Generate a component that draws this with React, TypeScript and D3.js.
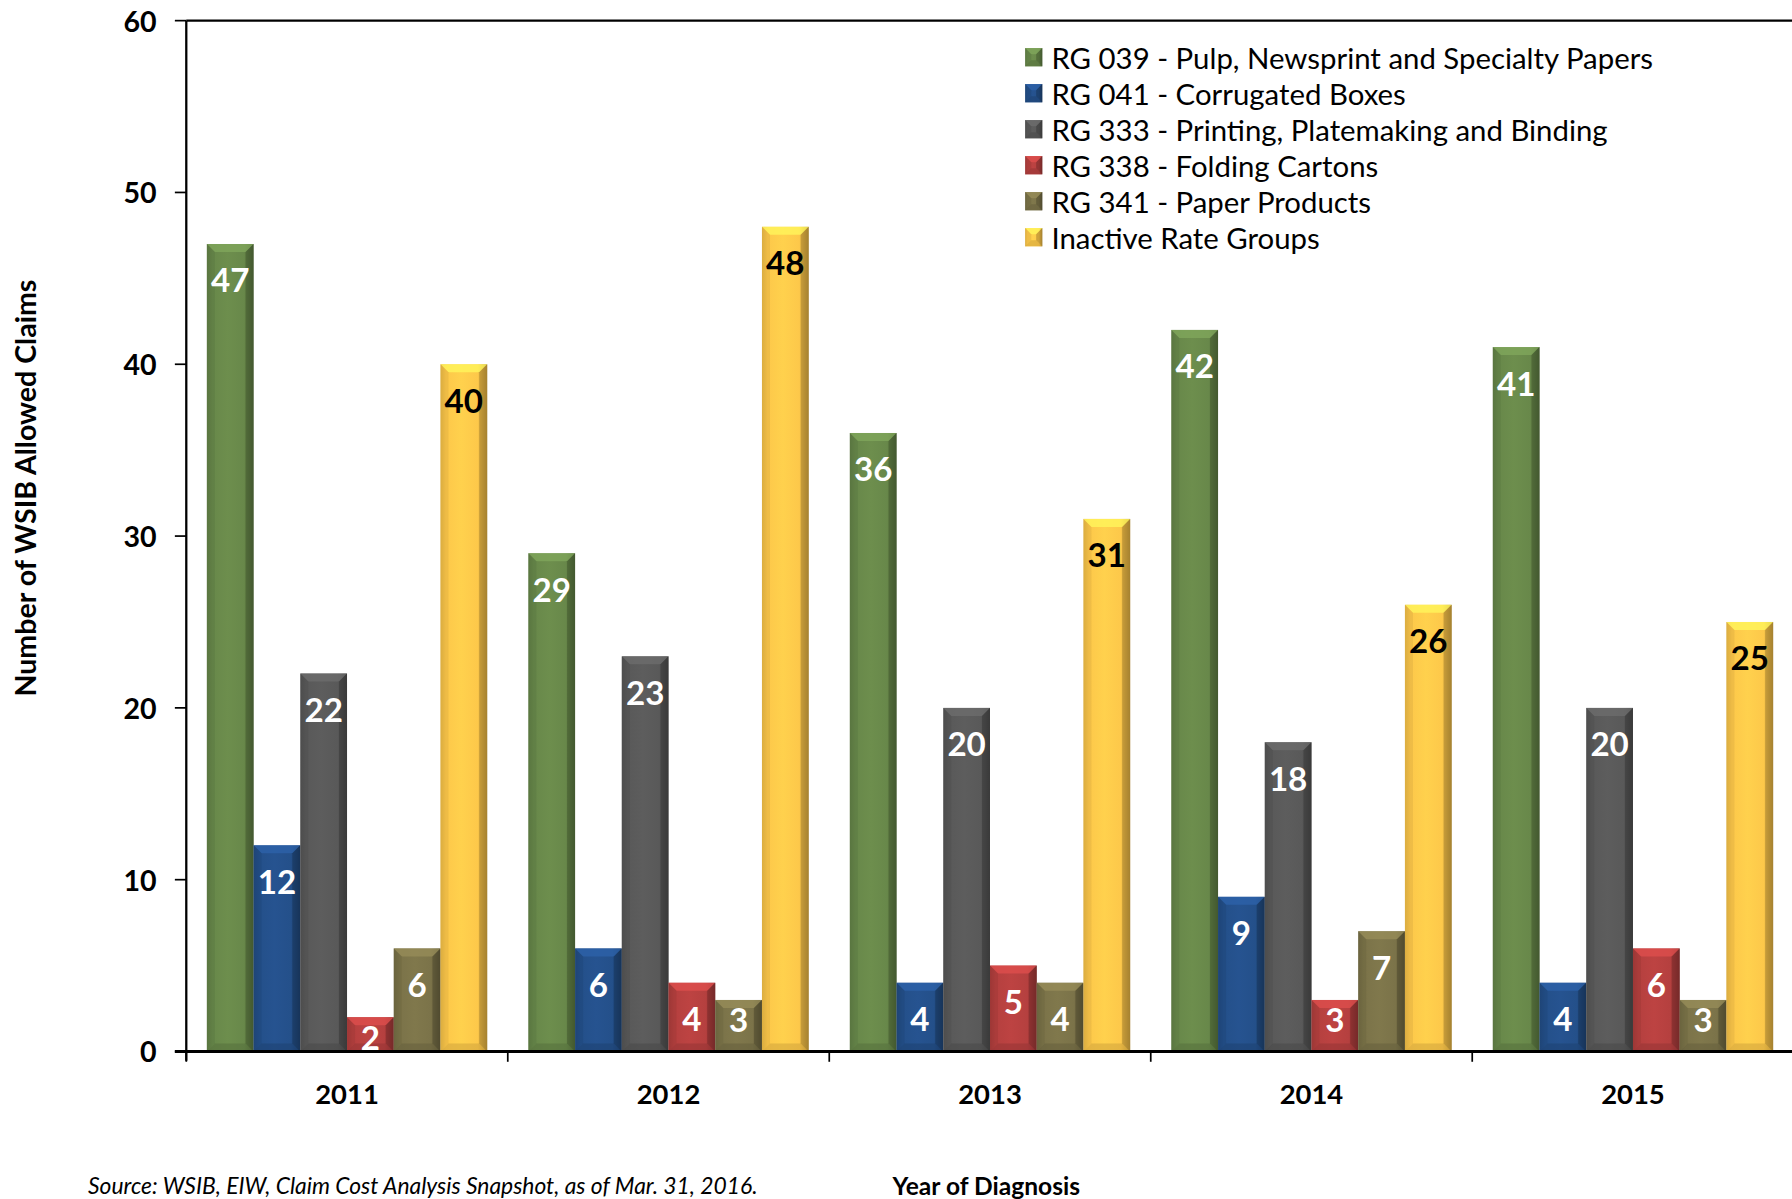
import React from "react";
import * as d3 from "d3";

const years = ["2011", "2012", "2013", "2014", "2015"];
const seriesNames = [
  "RG 039 - Pulp, Newsprint and Specialty Papers",
  "RG 041 - Corrugated Boxes",
  "RG 333 - Printing, Platemaking and Binding",
  "RG 338 - Folding Cartons",
  "RG 341 - Paper Products",
  "Inactive Rate Groups",
];
const rg039 = [47, 29, 36, 42, 41];
const rg041 = [12, 6, 4, 9, 4];
const rg333 = [22, 23, 20, 18, 20];
const rg338 = [2, 4, 5, 3, 6];
const rg341 = [6, 3, 4, 7, 3];
const inactive = [40, 48, 31, 26, 25];
const yTicks = [0, 10, 20, 30, 40, 50, 60];

const seriesValues = [rg039, rg041, rg333, rg338, rg341, inactive];
const colors = ["#68884a", "#24508a", "#595959", "#b5403f", "#7b7349", "#fdc84a"];
const labelColors = ["#fff", "#fff", "#fff", "#fff", "#fff", "#000"];

const W = 1568;
const H = 1049;
const left = 163;
const top = 18;
const bottom = 920;
const right = 163 + 5 * 281.3;

const FONT = "Lato, 'Open Sans', sans-serif";

function Bar({ x, y, w, h, color, id }: any) {
  const c = d3.color(color)!;
  const lighter = d3.color(color)!.brighter(0.6).formatHex();
  const darker = d3.color(color)!.darker(1.2).formatHex();
  const dark2 = d3.color(color)!.darker(0.5).formatHex();
  const b = Math.min(7, h / 3);
  return (
    <g>
      <defs>
        <linearGradient id={`g${id}`} x1="0" x2="1" y1="0" y2="0">
          <stop offset="0" stopColor={d3.color(color)!.darker(0.35).formatHex()} />
          <stop offset="0.12" stopColor={c.formatHex()} />
          <stop offset="0.45" stopColor={d3.color(color)!.brighter(0.12).formatHex()} />
          <stop offset="0.8" stopColor={c.formatHex()} />
          <stop offset="1" stopColor={darker} />
        </linearGradient>
      </defs>
      <rect x={x} y={y} width={w} height={h} fill={`url(#g${id})`} />
      <path d={`M${x},${y}L${x + w},${y}L${x + w - b},${y + b}L${x + b},${y + b}Z`} fill={lighter} opacity={0.75} />
      <path d={`M${x},${y + h}L${x + w},${y + h}L${x + w - b},${y + h - b}L${x + b},${y + h - b}Z`} fill={dark2} opacity={0.6} />
      <path d={`M${x + w},${y}L${x + w},${y + h}L${x + w - b},${y + h - b}L${x + w - b},${y + b}Z`} fill={darker} opacity={0.55} />
      <path d={`M${x},${y}L${x},${y + h}L${x + b},${y + h - b}L${x + b},${y + b}Z`} fill={dark2} opacity={0.35} />
    </g>
  );
}

export default function App() {
  React.useEffect(() => {
    document.body.style.margin = "0";
  }, []);

  const x0 = d3.scaleBand().domain(years).range([left, right]).paddingInner(0.128).paddingOuter(0.064);
  const x1 = d3.scaleBand().domain(seriesNames).range([0, x0.bandwidth()]).padding(0);
  const y = d3.scaleLinear().domain([0, 60]).range([bottom, top]);

  return (
    <svg width={1792} height={1199} viewBox={`0 0 ${W} ${H}`} style={{ display: "block", background: "#fff" }}>
      {seriesValues.map((vals, si) =>
        vals.map((v, yi) => {
          const bx = x0(years[yi])! + x1(seriesNames[si])!;
          const bw = x1.bandwidth();
          const by = y(v);
          const bh = bottom - by;
          return <Bar key={`${si}-${yi}`} id={`${si}-${yi}`} x={bx} y={by} w={bw} h={bh} color={colors[si]} />;
        })
      )}
      {seriesValues.map((vals, si) =>
        vals.map((v, yi) => {
          const bx = x0(years[yi])! + x1(seriesNames[si])! + x1.bandwidth() / 2;
          const by = y(v);
          const bh = bottom - by;
          let cy = Math.min(by + 31, bottom - 28);
          if (bh < 40) cy = by + bh / 2 + 2;
          return (
            <text
              key={`l${si}-${yi}`}
              x={bx}
              y={cy}
              textAnchor="middle"
              dominantBaseline="central"
              fontFamily={FONT}
              fontWeight="bold"
              fontSize={29}
              fill={labelColors[si]}
            >
              {v}
            </text>
          );
        })
      )}
      <line x1={left} x2={left} y1={top} y2={bottom + 8} stroke="#000" strokeWidth={2} />
      <line x1={left} x2={W} y1={top} y2={top} stroke="#000" strokeWidth={2} />
      <line x1={left - 10} x2={W} y1={bottom} y2={bottom} stroke="#000" strokeWidth={2.5} />
      {yTicks.map((t) => (
        <g key={t}>
          <line x1={left - 10} x2={left} y1={y(t)} y2={y(t)} stroke="#000" strokeWidth={1.5} />
          <text x={137} y={y(t)} textAnchor="end" dominantBaseline="central" fontFamily={FONT} fontWeight="bold" fontSize={25} fill="#000">
            {t}
          </text>
        </g>
      ))}
      {years.map((yr) => {
        const bx = x0(yr)! - (x0.step() - x0.bandwidth()) / 2;
        return (
          <g key={yr}>
            <line x1={bx} x2={bx} y1={bottom} y2={bottom + 9} stroke="#000" strokeWidth={1.5} />
            <text
              x={x0(yr)! + x0.bandwidth() / 2}
              y={957}
              textAnchor="middle"
              dominantBaseline="central"
              fontFamily={FONT}
              fontWeight="bold"
              fontSize={24}
              fill="#000"
            >
              {yr}
            </text>
          </g>
        );
      })}
      {seriesNames.map((name, i) => {
        const ly = 50 + i * 31.5;
        return (
          <g key={name}>
            <Bar x={897} y={ly - 8} w={15} h={16} color={colors[i]} id={`leg${i}`} />
            <text x={920} y={ly} dominantBaseline="central" fontFamily={FONT} fontSize={25.7} fill="#000">
              {name}
            </text>
          </g>
        );
      })}
      <text
        transform={`translate(22,${427}) rotate(-90)`}
        textAnchor="middle"
        dominantBaseline="central"
        fontFamily={FONT}
        fontWeight="bold"
        fontSize={25}
        fill="#000"
      >
        Number of WSIB Allowed Claims
      </text>
      <text x={863} y={1037} textAnchor="middle" dominantBaseline="central" fontFamily={FONT} fontWeight="bold" fontSize={21.5} fill="#000">
        Year of Diagnosis
      </text>
      <text x={77} y={1037} dominantBaseline="central" fontFamily={FONT} fontStyle="italic" fontSize={20} fill="#000">
        Source: WSIB, EIW, Claim Cost Analysis Snapshot, as of Mar. 31, 2016.
      </text>
    </svg>
  );
}
